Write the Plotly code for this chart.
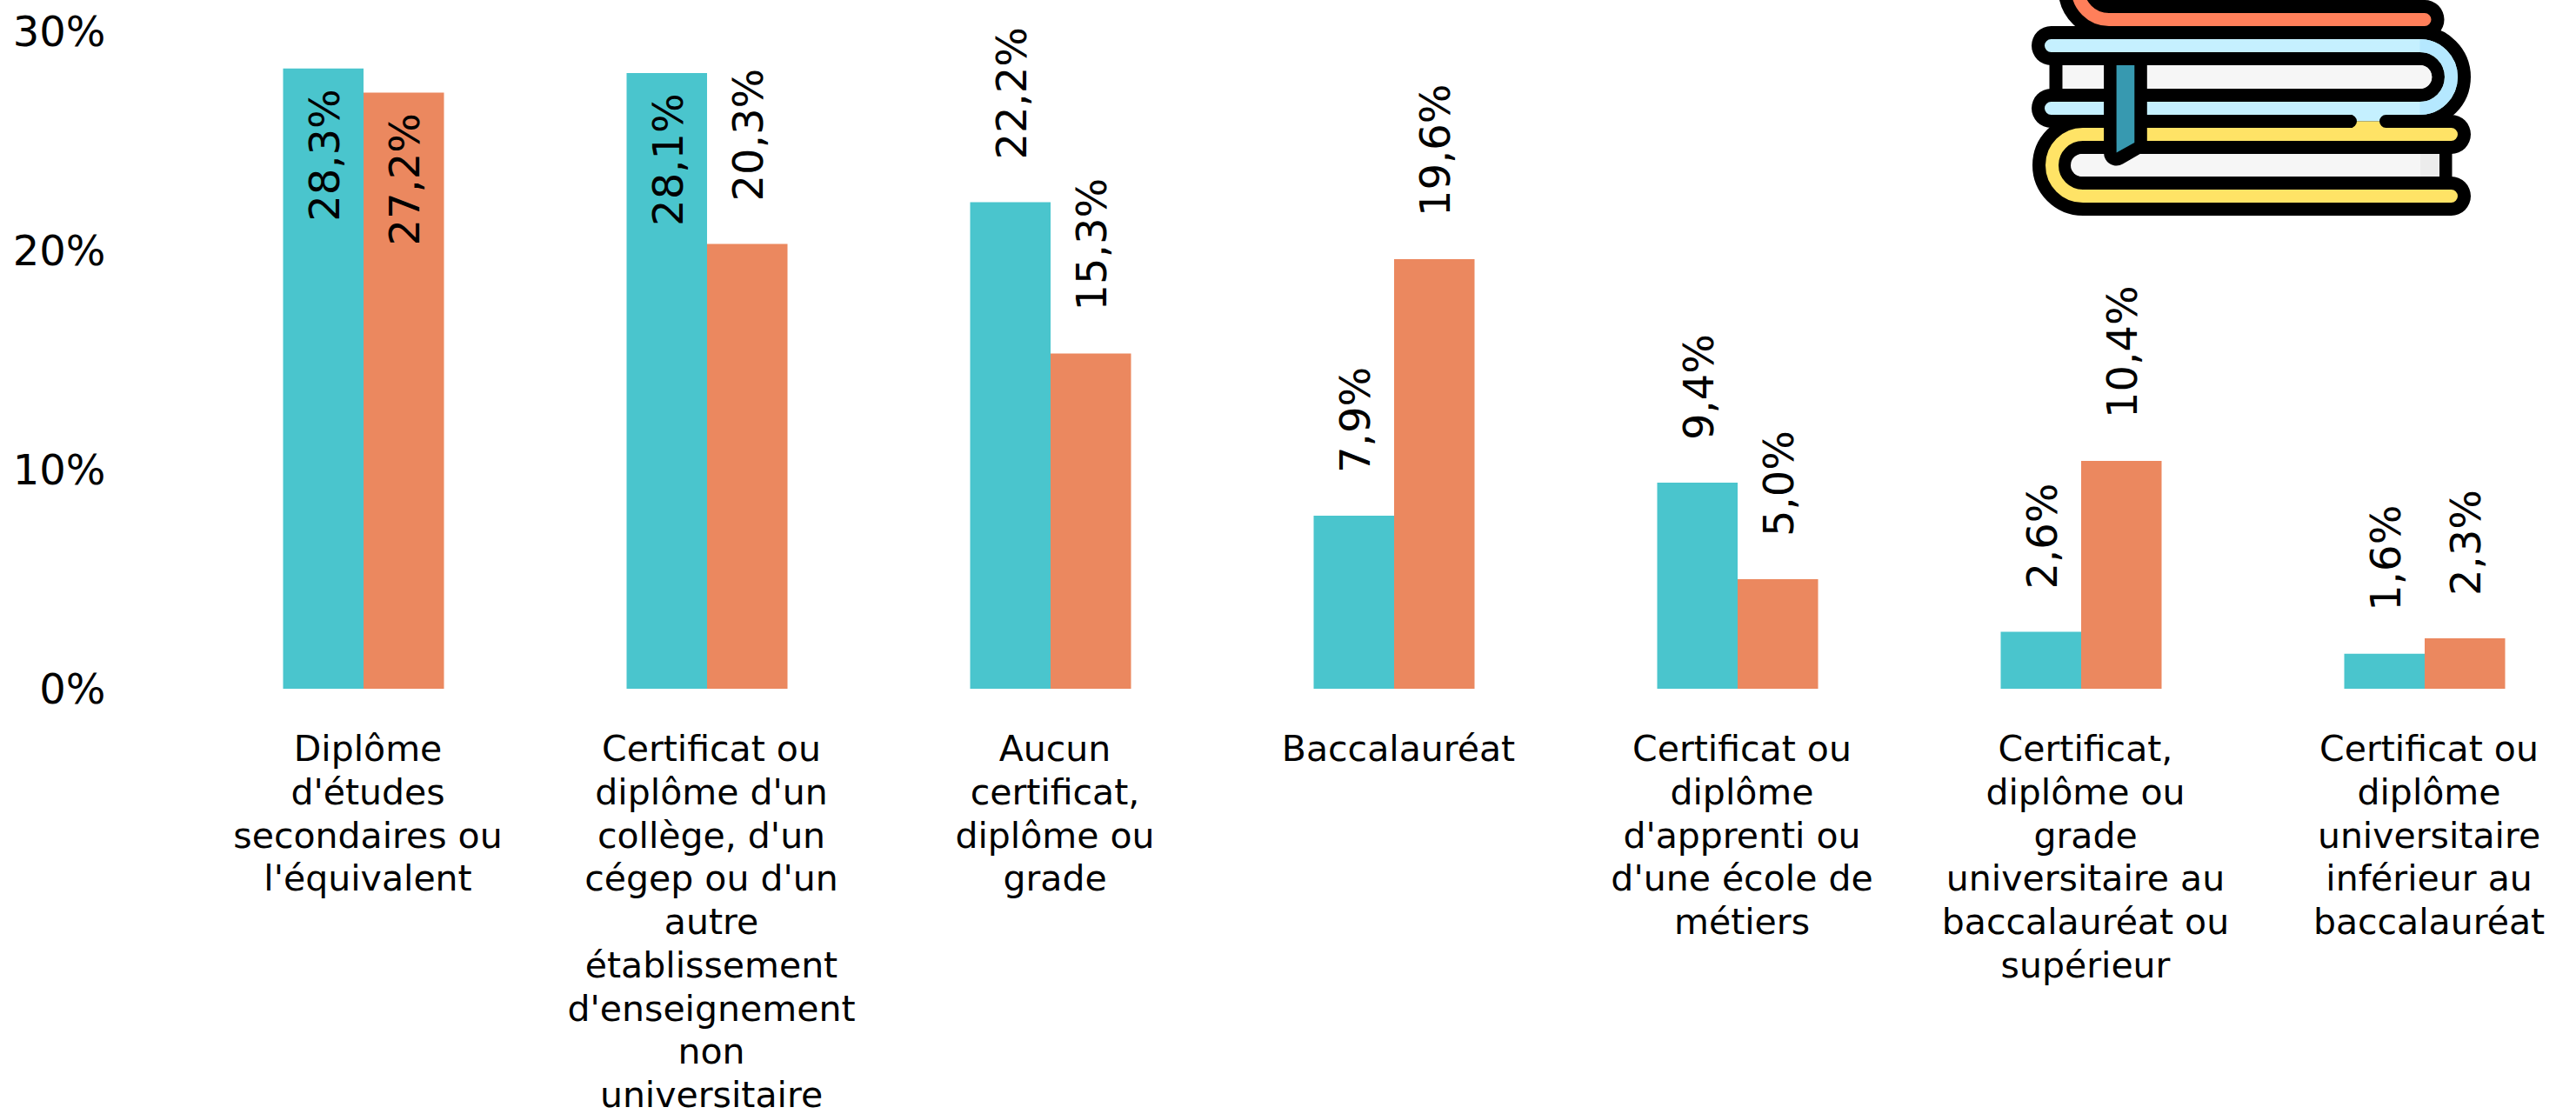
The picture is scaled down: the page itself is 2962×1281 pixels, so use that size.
import base64
import plotly.graph_objects as go

categories = [
    "Diplôme<br>d'études<br>secondaires ou<br>l'équivalent",
    "Certificat ou<br>diplôme d'un<br>collège, d'un<br>cégep ou d'un<br>autre<br>établissement<br>d'enseignement<br>non<br>universitaire",
    "Aucun<br>certificat,<br>diplôme ou<br>grade",
    "Baccalauréat",
    "Certificat ou<br>diplôme<br>d'apprenti ou<br>d'une école de<br>métiers",
    "Certificat,<br>diplôme ou<br>grade<br>universitaire au<br>baccalauréat ou<br>supérieur",
    "Certificat ou<br>diplôme<br>universitaire<br>inférieur au<br>baccalauréat",
]
series_a = [28.3, 28.1, 22.2, 7.9, 9.4, 2.6, 1.6]
series_b = [27.2, 20.3, 15.3, 19.6, 5.0, 10.4, 2.3]
inside_a = [True, True, False, False, False, False, False]
inside_b = [True, False, False, False, False, False, False]
TEAL = "#4AC5CD"
ORANGE = "#EB885F"
W, H = 2962, 1281
L, R, B = 138, 10, 489
PX_X = 395.0
C0 = 418.0
FONT = "DejaVu Sans"


def fmt(v):
    return f"{v:.1f}".replace(".", ",") + "%"


def tick_label(c):
    # line pitch follows the axis font size; the glyphs are drawn a little larger
    return "<br>".join(f'<span style="font-size:41px">{s}</span>' for s in c.split("<br>"))


icon = """<svg xmlns="http://www.w3.org/2000/svg" width="620" height="270" viewBox="0 0 620 270">
<g fill="none" stroke-linecap="round" stroke-linejoin="round">
<path d="M538 22.5H175A36 36 0 0 1 139 -13.5" stroke="#000" stroke-width="45"/>
<path d="M568.5 154.5H145A35.5 35.5 0 0 0 145 225.5H568.5" stroke="#000" stroke-width="45"/>
<path d="M108.5 52.5H532.5A36 36 0 0 1 532.5 124.5H108.5" stroke="#000" stroke-width="45"/>
<path d="M114 60V117M562 170V210" stroke="#000" stroke-width="15" stroke-linecap="butt"/>
<path d="M538 22.5H175A36 36 0 0 1 139 -13.5" stroke="#FF7F5A" stroke-width="15"/>
<path d="M108.5 52.5H532.5A36 36 0 0 1 532.5 124.5H108.5" stroke="#C5F0FF" stroke-width="15"/>
<path d="M532.5 52.5A36 36 0 0 1 532.5 124.5" stroke="#B5E8FF" stroke-width="15" stroke-linecap="butt"/>
<path d="M568.5 154.5H145A35.5 35.5 0 0 0 145 225.5H568.5" stroke="#FFE366" stroke-width="15"/>
</g>
<path d="M122 75H533A13.5 13.5 0 0 1 533 102H122Z" fill="#F6F6F6"/>
<path d="M555 177H144A13 13 0 0 0 144 203H555Z" fill="#F6F6F6"/>
<rect x="533" y="177" width="22" height="26" fill="#ECECEC"/>
<rect x="455" y="131" width="40" height="8.5" fill="#C5F0FF"/>
<rect x="455" y="139.5" width="40" height="8" fill="#FFE366"/>
<path d="M440 139.5H452.5M493.5 139.5H560" stroke="#000" stroke-width="15" stroke-linecap="round" fill="none"/>
<path d="M183.6 75H204.3V164L183.6 176Z" fill="#3799B0" stroke="#000" stroke-width="29" stroke-linejoin="round"/>
<path d="M183.6 75H204.3V164L183.6 175.5Z" fill="#3799B0"/>
</svg>"""
icon_uri = "data:image/svg+xml;base64," + base64.b64encode(icon.encode()).decode()

fig = go.Figure()
fig.add_bar(x=categories, y=series_a, marker_color=TEAL, marker_line_width=0, name="A")
fig.add_bar(x=categories, y=series_b, marker_color=ORANGE, marker_line_width=0, name="B")

annots = []
for vals, ins, shift in ((series_a, inside_a, -46), (series_b, inside_b, 46)):
    for c, v, i in zip(categories, vals, ins):
        annots.append(dict(
            x=c, y=v, xref="x", yref="y", text=fmt(v), textangle=-90, showarrow=False,
            xshift=shift + 1, yshift=-24 if i else 49, yanchor="top" if i else "bottom",
            xanchor="center", borderpad=0, borderwidth=0,
            font=dict(family=FONT, size=48, color="#000"),
        ))

plot_w = W - L - R
plot_h = H - B
fig.update_layout(
    width=W, height=H, autosize=False,
    margin=dict(l=L, r=R, t=0, b=B, autoexpand=False),
    paper_bgcolor="#fff", plot_bgcolor="#fff",
    barmode="group", bargap=1 - 185 / PX_X, bargroupgap=0,
    showlegend=False,
    font=dict(family=FONT, color="#000"),
    annotations=annots,
    images=[dict(source=icon_uri, xref="paper", yref="paper",
                 x=(2250 - L) / plot_w, y=1, sizex=620 / plot_w, sizey=270 / plot_h,
                 xanchor="left", yanchor="top", sizing="stretch", layer="above")],
    xaxis=dict(type="category", range=[(L - C0) / PX_X, (W - R - C0) / PX_X],
               tickmode="array", tickvals=categories, ticktext=[tick_label(c) for c in categories],
               showgrid=False, zeroline=False, showline=False,
               ticks="outside", ticklen=36, tickcolor="rgba(0,0,0,0)", ticklabelshift=5,
               tickangle=0, tickfont=dict(family=FONT, size=38.3, color="#000")),
    yaxis=dict(range=[0, plot_h / 25.2], dtick=10, ticksuffix="%",
               showgrid=False, zeroline=False, showline=False,
               ticks="outside", ticklen=6, tickcolor="rgba(0,0,0,0)",
               tickfont=dict(family=FONT, size=48, color="#000")),
)
fig.write_html("out.html", config={"displayModeBar": False},
               post_script="document.body.style.margin='0';document.body.style.overflow='hidden';")
